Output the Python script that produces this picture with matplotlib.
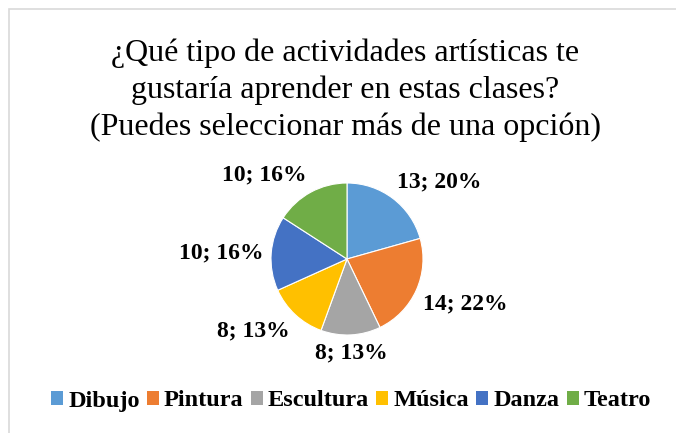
import matplotlib.pyplot as plt
import numpy as np
from matplotlib.patches import Rectangle

# Datos de la encuesta
categorias = ["Dibujo", "Pintura", "Escultura", "Música", "Danza", "Teatro"]
valores = [13, 14, 8, 8, 10, 10]
porcentajes = [20, 22, 13, 13, 16, 16]  # tal como aparecen en el gráfico
colores = ["#5B9BD5", "#ED7D31", "#A5A5A5", "#FFC000", "#4472C4", "#70AD47"]

titulo = ("¿Qué tipo de actividades artísticas te\n"
          "gustaría aprender en estas clases?\n"
          "(Puedes seleccionar más de una opción)")

W, H = 676, 433
fig = plt.figure(figsize=(W / 100, H / 100), dpi=100)
fig.patch.set_facecolor("white")

# Borde gris del área del gráfico
fig.patches.append(Rectangle((8.5 / W, -0.1), 1.2, 1.1 - 9.5 / H, transform=fig.transFigure,
                             fill=False, edgecolor="#d9d9d9", linewidth=1.2))

fig.text(345 / W, 1 - 38.5 / H, titulo, ha="center", va="top", fontsize=23,
         family="Liberation Serif", linespacing=1.33)

# Ejes del pastel (radio ~76 px, centro en (347, 259))
r_px = 76
lim = 1.5
lado = 2 * lim * r_px
cx, cy = 347, H - 259
ax = fig.add_axes([(cx - lado / 2) / W, (cy - lado / 2) / H, lado / W, lado / H])

wedges, _ = ax.pie(valores, colors=colores, startangle=90, counterclock=False,
                   wedgeprops=dict(edgecolor="white", linewidth=0.8))
ax.set_xlim(-lim, lim)
ax.set_ylim(-lim, lim)
ax.set_aspect("equal")
ax.axis("off")

# Etiquetas de datos fuera del pastel
for w, v, p in zip(wedges, valores, porcentajes):
    ang = np.deg2rad((w.theta1 + w.theta2) / 2)
    x, y = np.cos(ang), np.sin(ang)
    ha = "left" if x > 0.1 else ("right" if x < -0.1 else "center")
    va = "bottom" if y > 0.1 else ("top" if y < -0.1 else "center")
    ax.annotate(f"{v}; {p}%", xy=(1.1 * x, 1.1 * y), ha=ha, va=va,
                fontsize=17, fontweight="bold", family="Liberation Serif",
                annotation_clip=False)

leg = fig.legend(wedges, categorias, loc="center", bbox_to_anchor=(351 / W, 1 - 401 / H),
                 ncol=6, frameon=False, handlelength=0.5, handleheight=0.5,
                 handletextpad=0.2, columnspacing=0.3,
                 prop={"family": "Liberation Serif", "weight": "bold", "size": 17.5})
for h in leg.legend_handles:
    h.set_edgecolor("none")

fig.savefig("out.png", dpi=100)
